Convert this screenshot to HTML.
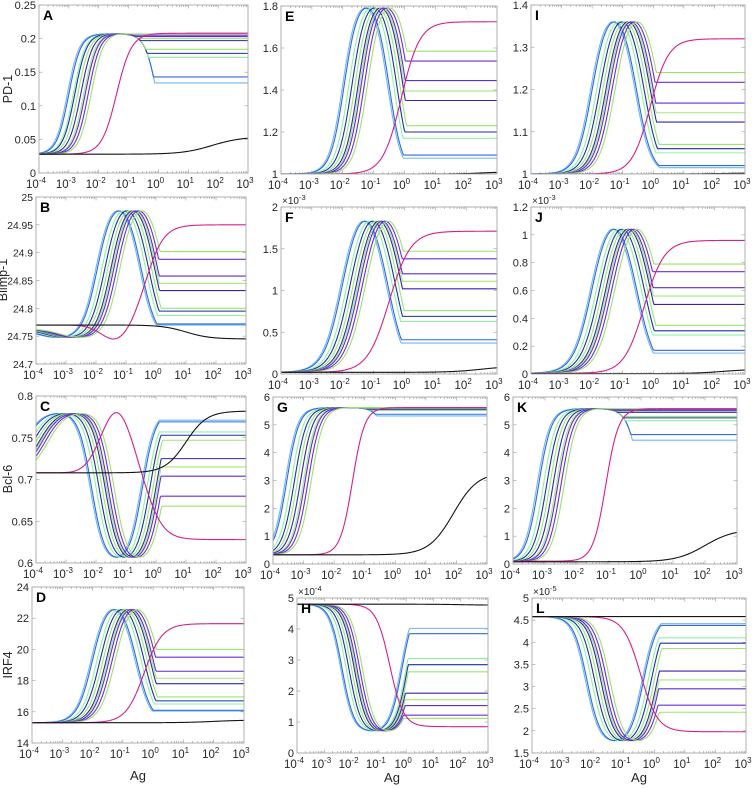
<!DOCTYPE html>
<html><head><meta charset="utf-8"><style>
html,body{margin:0;padding:0;background:#fff;}
svg{display:block;font-family:"Liberation Sans",Arial,sans-serif;}
</style></head><body>
<svg id="fig" width="755" height="788" viewBox="0 0 755 788"></svg>
<script>
const xTicks=[-4,-3,-2,-1,0,1,2,3];
const seriesColors=['#6fb6f2','#2d6be0','#8ff0a8','#1d2fa8','#97e86e','#3324b0','#a3ea7a','#5a2fd6','#6b2ed6','#9ae26a'];
const panelLetters=['A','B','C','D','E','F','G','H','I','J','K','L'];
const rowTitles=['PD-1','Blimp-1','Bcl-6','IRF4'];

const riseA=[-3.05,-3.0,-2.85,-2.8,-2.7,-2.6,-2.5,-2.45,-2.35,-2.25];
const fallA=[-0.05,-0.05,-0.05,-0.05,-0.05,-0.05,-0.05,-0.05,-0.05,-0.05];
const finalA=[0.134,0.143,0.172,0.178,0.184,0.197,0.200,0.203,0.205,0.207];
const levelA=[0.028,0.207,0.028,0,0.2];
const magA=[0.028,0,0,1,0.208,-1.4,0.25];
const blackA=[0.028,0.054,1.8,0.5];
const yTicksA=[0,0.05,0.1,0.15,0.2,0.25];

const riseB=[-2.0,-1.95,-1.8,-1.7,-1.6,-1.5,-1.45,-1.4,-1.3,-1.2];
const fallB=[-0.55,-0.5,-0.35,-0.25,-0.15,-0.05,0,0.05,0.15,0.25];
const finalB=[24.770,24.772,24.787,24.795,24.800,24.832,24.845,24.858,24.888,24.902];
const levelB=[24.745,24.975,24.763,-2.0,0.25];
const magB=[24.77,-0.03,-1.3,0.7,24.95,-0.3,0.3];
const blackB=[24.77,24.745,1.0,0.4];
const yTicksB=[24.7,24.75,24.8,24.85,24.9,24.95,25];

const riseC=[-2.2,-2.15,-2.0,-1.9,-1.8,-1.7,-1.65,-1.6,-1.5,-1.4];
const fallC=[-0.5,-0.45,-0.3,-0.2,-0.1,0,0.05,0.1,0.2,0.3];
const finalC=[0.771,0.769,0.757,0.753,0.747,0.725,0.715,0.704,0.680,0.668];
const levelC=[0.782,0.607,0.708,-2.2,0.22];
const magC=[0.708,0.074,-1.3,0.75,0.628,-0.2,0.3];
const blackC=[0.708,0.782,1.0,0.35];
const yTicksC=[0.6,0.65,0.7,0.75,0.8];

const riseD=[-2.05,-2.0,-1.85,-1.75,-1.65,-1.55,-1.5,-1.45,-1.35,-1.25];
const fallD=[-0.6,-0.55,-0.4,-0.3,-0.2,-0.1,-0.05,0,0.1,0.2];
const finalD=[16.05,16.1,16.5,16.7,16.95,17.8,18.15,18.6,19.5,20.0];
const levelD=[15.3,22.55,15.3,0,0.25];
const magD=[15.3,0,0,1,21.65,-0.3,0.3];
const blackD=[15.3,15.47,2.0,0.5];
const yTicksD=[14,16,18,20,22,24];

const riseE=[-2.0,-1.95,-1.8,-1.7,-1.6,-1.5,-1.45,-1.4,-1.3,-1.2];
const fallE=[-0.55,-0.5,-0.35,-0.25,-0.15,-0.05,0,0.05,0.15,0.25];
const finalE=[1.075,1.09,1.17,1.2,1.23,1.35,1.395,1.445,1.538,1.585];
const levelE=[1.0,1.79,1.0,0,0.22];
const magE=[1,0,0,1,1.725,-0.1,0.3];
const blackE=[1,1.01,2.5,0.4];
const yTicksE=[1,1.2,1.4,1.6,1.8];

const riseF=[-2.05,-2.0,-1.85,-1.75,-1.65,-1.55,-1.5,-1.45,-1.35,-1.25];
const fallF=[-0.6,-0.55,-0.4,-0.3,-0.2,-0.1,-0.05,0,0.1,0.2];
const finalF=[0.37,0.41,0.63,0.69,0.76,1.02,1.11,1.2,1.38,1.47];
const levelF=[0.02,1.83,0.02,0,0.3];
const magF=[0.02,0,0,1,1.71,-0.5,0.35];
const blackF=[0.02,0.095,2.5,0.5];
const yTicksF=[0,0.5,1,1.5,2];

const riseG=[-3.6,-3.55,-3.4,-3.3,-3.2,-3.1,-3.0,-2.95,-2.85,-2.75];
const fallG=[-0.05,-0.05,-0.05,-0.05,-0.05,-0.05,-0.05,-0.05,-0.05,-0.05];
const finalG=[5.32,5.38,5.52,5.55,5.58,5.6,5.61,5.62,5.62,5.62];
const levelG=[0.33,5.62,0.33,0,0.2];
const magG=[0.33,0,0,1,5.62,-1.4,0.2];
const blackG=[0.33,3.3,1.9,0.4];
const yTicksG=[0,1,2,3,4,5,6];

const riseH=[-2.4,-2.35,-2.2,-2.1,-2.0,-1.9,-1.85,-1.8,-1.7,-1.6];
const fallH=[-0.2,-0.15,0,0.05,0.1,0.15,0.2,0.25,0.3,0.35];
const finalH=[4.02,3.85,3.05,2.85,2.62,1.93,1.72,1.53,1.22,1.12];
const levelH=[4.8,0.72,4.8,0,0.22];
const magH=[4.8,0,0,1,0.85,-0.6,0.25];
const blackH=[4.8,4.77,2,0.5];
const yTicksH=[0,1,2,3,4,5];

const riseI=[-2.05,-2.0,-1.85,-1.75,-1.65,-1.55,-1.5,-1.45,-1.35,-1.25];
const fallI=[-0.6,-0.55,-0.4,-0.3,-0.2,-0.1,-0.05,0,0.1,0.2];
const finalI=[1.015,1.02,1.05,1.06,1.07,1.123,1.145,1.168,1.217,1.24];
const levelI=[1.0,1.36,1.0,0,0.25];
const magI=[1,0,0,1,1.32,-0.1,0.3];
const blackI=[1,1.002,2,0.5];
const yTicksI=[1,1.1,1.2,1.3,1.4];

const riseJ=[-2.05,-2.0,-1.85,-1.75,-1.65,-1.55,-1.5,-1.45,-1.35,-1.25];
const fallJ=[-0.6,-0.55,-0.4,-0.3,-0.2,-0.1,-0.05,0,0.1,0.2];
const finalJ=[0.15,0.17,0.28,0.31,0.35,0.5,0.56,0.62,0.735,0.79];
const levelJ=[0.005,1.04,0.005,0,0.3];
const magJ=[0.005,0,0,1,0.96,-0.3,0.33];
const blackJ=[0.003,0.035,2.3,0.5];
const yTicksJ=[0,0.2,0.4,0.6,0.8,1,1.2];

const riseK=[-3.25,-3.2,-3.05,-2.95,-2.85,-2.75,-2.65,-2.6,-2.5,-2.4];
const fallK=[0,0,0,0,0,0,0,0,0,0];
const finalK=[4.45,4.65,5.15,5.25,5.3,5.45,5.5,5.52,5.55,5.58];
const levelK=[0.08,5.58,0.08,0,0.2];
const magK=[0.1,0,0,1,5.58,-1.1,0.2];
const blackK=[0.08,1.25,2.0,0.45];
const yTicksK=[0,1,2,3,4,5,6];

const riseL=[-2.25,-2.2,-2.05,-1.95,-1.85,-1.75,-1.7,-1.65,-1.55,-1.45];
const fallL=[-0.4,-0.35,-0.2,-0.1,0,0.1,0.15,0.2,0.3,0.4];
const finalL=[4.42,4.38,4.1,3.98,3.86,3.35,3.15,2.95,2.58,2.42];
const levelL=[4.58,1.78,4.58,0,0.22];
const magL=[4.58,0,0,1,1.98,-0.45,0.28];
const blackL=[4.58,4.58,0,1];
const yTicksL=[1.5,2,2.5,3,3.5,4,4.5,5];

const panels=[
 {id:'A',box:[39,5,248,173],rise:riseA,fall:fallA,fin:finalA,lev:levelA,mag:magA,blk:blackA,yt:yTicksA,exp:null,fs:11},
 {id:'B',box:[36,197,246,364],rise:riseB,fall:fallB,fin:finalB,lev:levelB,mag:magB,blk:blackB,yt:yTicksB,exp:null,fs:10.3},
 {id:'C',box:[36,396,246,563],rise:riseC,fall:fallC,fin:finalC,lev:levelC,mag:magC,blk:blackC,yt:yTicksC,exp:null,fs:11},
 {id:'D',box:[32,587,244,743],rise:riseD,fall:fallD,fin:finalD,lev:levelD,mag:magD,blk:blackD,yt:yTicksD,exp:null,fs:11},
 {id:'E',box:[281,6,497,174],rise:riseE,fall:fallE,fin:finalE,lev:levelE,mag:magE,blk:blackE,yt:yTicksE,exp:null,fs:11},
 {id:'F',box:[281,207,497,374],rise:riseF,fall:fallF,fin:finalF,lev:levelF,mag:magF,blk:blackF,yt:yTicksF,exp:'-3',fs:11},
 {id:'G',box:[273,397,487,564],rise:riseG,fall:fallG,fin:finalG,lev:levelG,mag:magG,blk:blackG,yt:yTicksG,exp:null,fs:11},
 {id:'H',box:[297,598,488,753],rise:riseH,fall:fallH,fin:finalH,lev:levelH,mag:magH,blk:blackH,yt:yTicksH,exp:'-4',fs:11},
 {id:'I',box:[531,5,745,174],rise:riseI,fall:fallI,fin:finalI,lev:levelI,mag:magI,blk:blackI,yt:yTicksI,exp:null,fs:11},
 {id:'J',box:[531,207,745,374],rise:riseJ,fall:fallJ,fin:finalJ,lev:levelJ,mag:magJ,blk:blackJ,yt:yTicksJ,exp:'-3',fs:11},
 {id:'K',box:[513,397,737,564],rise:riseK,fall:fallK,fin:finalK,lev:levelK,mag:magK,blk:blackK,yt:yTicksK,exp:null,fs:11},
 {id:'L',box:[532,598,746,753],rise:riseL,fall:fallL,fin:finalL,lev:levelL,mag:magL,blk:blackL,yt:yTicksL,exp:'-5',fs:11}
];

const NS='http://www.w3.org/2000/svg';
const svg=document.getElementById('fig');
function mk(tag,attrs,parent){const e=document.createElementNS(NS,tag);for(const k in attrs)e.setAttribute(k,attrs[k]);(parent||svg).appendChild(e);return e;}
const S=z=>1/(1+Math.exp(-z));

function drawPanel(p,pi){
 const [x0,y0,x1,y1]=p.box;
 const yt=p.yt, ymin=yt[0], ymax=yt[yt.length-1];
 const xs=lx=>x0+(lx+4)/7*(x1-x0);
 const ys=v=>y1-(v-ymin)/(ymax-ymin)*(y1-y0);
 const g=mk('g',{});
 
 
 const clipId='clip'+p.id;
 const cp=mk('clipPath',{id:clipId},g);
 mk('rect',{x:x0,y:y0,width:x1-x0,height:y1-y0},cp);
 const tk=mk('g',{stroke:'#9a9a9a','stroke-width':0.6},g);
 
 
 for(let n=-4;n<3;n++){for(let k=2;k<10;k++){const x=xs(n+Math.log10(k));mk('line',{x1:x,y1:y1,x2:x,y2:y1-2},tk);mk('line',{x1:x,y1:y0,x2:x,y2:y0+2},tk);}}
 xTicks.forEach(n=>{const x=xs(n);mk('line',{x1:x,y1:y1,x2:x,y2:y1-3.5},tk);mk('line',{x1:x,y1:y0,x2:x,y2:y0+3.5},tk);});
 yt.forEach(v=>{const y=ys(v);mk('line',{x1:x0,y1:y,x2:x0+3.5,y2:y},tk);mk('line',{x1:x1,y1:y,x2:x1-3.5,y2:y},tk);});
 const cg=mk('g',{'clip-path':'url(#'+clipId+')',fill:'none','stroke-width':1.1},g);
 const [base,peak,start,preOff,w]=p.lev;
 const N=240;
 for(let i=0;i<p.rise.length;i++){
  const r=p.rise[i],f=p.fall[i];
  let norm=0,pk=r;
  for(let j=0;j<=700;j++){const lx=-6+j*0.015;const b=S((lx-r)/w)*(1-S((lx-f)/w));if(b>norm){norm=b;pk=lx;}}
  let d='';
  for(let j=0;j<=N;j++){
   const lx=-4+7*j/N;
   const pre=(start===base)?base:start+(base-start)*S((lx-(r+preOff))/0.3);
   let v=pre+(peak-base)*S((lx-r)/w)*(1-S((lx-f)/w))/norm;
   if(lx>pk){v=peak>base?Math.max(v,p.fin[i]):Math.min(v,p.fin[i]);}
   d+=(j?'L':'M')+xs(lx).toFixed(2)+','+ys(v).toFixed(2);
  }
  const path=mk('path',{d:d,stroke:seriesColors[i]},cg);
  
  
 }
 const m=p.mag;let dm='';
 for(let j=0;j<=N;j++){const lx=-4+7*j/N;const v=m[0]+m[1]*Math.exp(-Math.pow((lx-m[2])/m[3],2))+(m[4]-m[0])*S((lx-m[5])/m[6]);dm+=(j?'L':'M')+xs(lx).toFixed(2)+','+ys(v).toFixed(2);}
 const mp=mk('path',{d:dm,stroke:'#d4208f'},cg);
 
 
 const k=p.blk;let dk='';
 for(let j=0;j<=N;j++){const lx=-4+7*j/N;const v=k[0]+(k[1]-k[0])*S((lx-k[2])/k[3]);dk+=(j?'L':'M')+xs(lx).toFixed(2)+','+ys(v).toFixed(2);}
 const kp=mk('path',{d:dk,stroke:'#151515'},cg);
 
 
 const bx=mk('rect',{x:x0,y:y0,width:x1-x0,height:y1-y0,fill:'none',stroke:'#a8a8a8','stroke-width':0.9},g);
 
 
 yt.forEach(v=>{
  const t=mk('text',{x:x0-3,y:ys(v)+4,'text-anchor':'end','font-size':p.fs,fill:'#262626'},g);
  t.textContent=String(v);
  
  
 });
 xTicks.forEach(n=>{
  const t=mk('text',{x:xs(n)-3,y:y1+15,'text-anchor':'middle','font-size':11.5,fill:'#262626'},g);
  
  
  t.appendChild(document.createTextNode('10'));
  const s=mk('tspan',{dy:-5,'font-size':8},t);s.textContent=String(n);
 });
 if(p.exp){
  const t=mk('text',{x:x0+1,y:y0-3,'font-size':10,fill:'#262626'},g);
  
  
  t.appendChild(document.createTextNode('\u00d710'));
  const s=mk('tspan',{dy:-4,'font-size':7.5},t);s.textContent=p.exp;
 }
 const L=mk('text',{x:x0+4,y:y0+15,'font-size':14,'font-weight':'bold',fill:'#000'},g);
 L.textContent=p.id;
 
 
}
panels.forEach(drawPanel);
const rowMid=[89,280,479,665];
const rowX=[12,7,12,12];
rowTitles.forEach((s,i)=>{
 const t=mk('text',{x:0,y:0,transform:'translate('+rowX[i]+','+rowMid[i]+') rotate(-90)','text-anchor':'middle','font-size':12.5,fill:'#262626'});
 t.textContent=s;
 
 
});
[[138,780],[392,782],[639,782]].forEach(([x,y])=>{
 const t=mk('text',{x:x,y:y,'text-anchor':'middle','font-size':13,fill:'#262626'});
 t.textContent='Ag';
 
 
});
</script>
</body></html>
